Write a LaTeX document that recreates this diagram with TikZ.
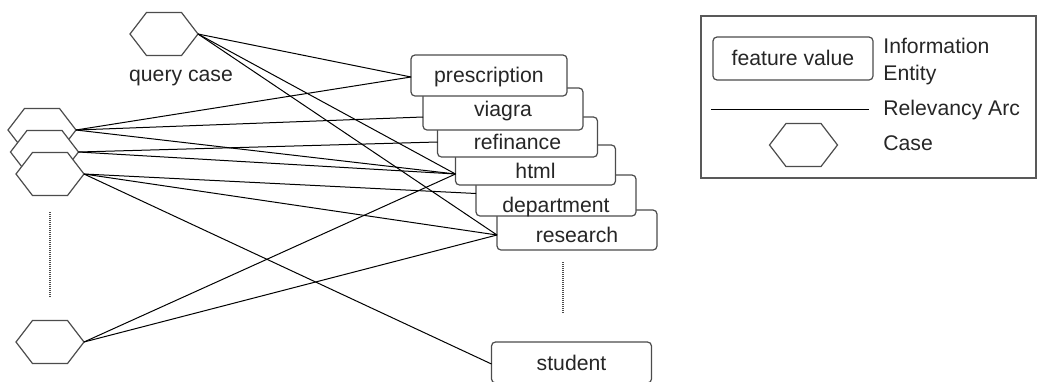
\documentclass[tikz,border=0pt]{standalone}
\usepackage{fontspec}
\setmainfont{Liberation Sans}
\usetikzlibrary{shapes.symbols}
\begin{document}
\begin{tikzpicture}[x=0.5pt,y=-0.5pt,
  every node/.style={font=\fontsize{10.6}{13.5}\selectfont, text=black!85},
  entity/.style={draw=black!70, fill=white, rounded corners=2pt, minimum width=80pt,
    inner sep=0pt, outer sep=0pt, line width=0.6pt},
  casehex/.style={signal, signal to=east and west, signal pointer angle=105,
    draw=black!70, fill=white, minimum width=34pt, minimum height=21.5pt,
    inner sep=0pt, outer sep=0pt, line width=0.6pt},
  arc/.style={draw=black, line width=0.5pt},
  dots/.style={draw=black!70, line width=0.6pt, dash pattern=on 0.5pt off 0.5pt},
  frame/.style={draw=black!65, line width=1pt, inner sep=0pt}]
\useasboundingbox (0,0) rectangle (1040,381);
\clip (0,0) rectangle (1040,381);

% legend
\node[frame, minimum width=167.5pt, minimum height=81pt] (legend) at (868.5,97) {};
\node[entity, text height=14pt, text depth=7.5pt] (lent) at (793,58.5) {feature value};
\node[anchor=west, align=left, inner sep=0pt] (lentlab) at (883,62) {Information\\Entity};
\coordinate (la) at (711,109);
\coordinate (lb) at (869,109);
\draw[arc] (la) -- (lb);
\node[anchor=west, inner sep=0pt] (larclab) at (883,110) {Relevancy Arc};
\node[casehex] (lhex) at (803.5,145) {};
\node[anchor=west, inner sep=0pt] (lcaselab) at (883,143) {Case};

% cases
\node[casehex] (q) at (164,34) {};
\node[inner sep=0pt] (qlab) at (181,78) {query case};
\node[casehex] (c1) at (42,130) {};
\node[casehex] (c2) at (44.5,152) {};
\node[casehex] (c3) at (50,174) {};
\node[casehex] (c4) at (50,342) {};
\coordinate (d1a) at (50,212);
\coordinate (d1b) at (50,297);
\draw[dots] (d1a) -- (d1b);

% information entities (drawn bottom-up so upper boxes overlap lower ones)
\node[entity, text height=14pt, text depth=6.5pt] (student) at (571.5,362.5) {student};
\node[entity, text height=16.15pt, text depth=3.85pt] (research) at (577,230) {research};
\node[entity, text height=18.85pt, text depth=1.65pt] (department) at (556,195.5) {department};
\node[entity, text height=16.65pt, text depth=3.35pt] (html) at (535.5,165) {html};
\node[entity, text height=16.15pt, text depth=3.85pt] (refinance) at (517.5,137) {refinance};
\node[entity, text height=14pt, text depth=7pt] (viagra) at (503,109) {viagra};
\node[entity, minimum width=78pt, text height=13.85pt, text depth=6.65pt] (prescription) at (489,75.5) {prescription};
\coordinate (d2a) at (563,262);
\coordinate (d2b) at (563,313);
\draw[dots] (d2a) -- (d2b);

% attachment points
\coordinate (pin) at ([yshift=-0.75pt]prescription.west);
\coordinate (vin) at ([yshift=-4pt]viagra.west);
\coordinate (rin) at ([yshift=-2.5pt]refinance.west);
\coordinate (hin) at ([yshift=-4.5pt]html.west);
\coordinate (din) at ([yshift=1pt]department.west);
\coordinate (sin) at ([yshift=-2.5pt]research.west);
\coordinate (tin) at ([yshift=-0.75pt]student.west);

% relevancy arcs
\draw[arc] (q.east) -- (pin);
\draw[arc] (q.east) -- (hin);
\draw[arc] (q.east) -- (sin);
\draw[arc] (c1.east) -- (pin);
\draw[arc] (c1.east) -- (vin);
\draw[arc] (c1.east) -- (hin);
\draw[arc] (c2.east) -- (rin);
\draw[arc] (c2.east) -- (hin);
\draw[arc] (c3.east) -- (din);
\draw[arc] (c3.east) -- (sin);
\draw[arc] (c3.east) -- (tin);
\draw[arc] (c4.east) -- (hin);
\draw[arc] (c4.east) -- (sin);
\end{tikzpicture}
\end{document}
